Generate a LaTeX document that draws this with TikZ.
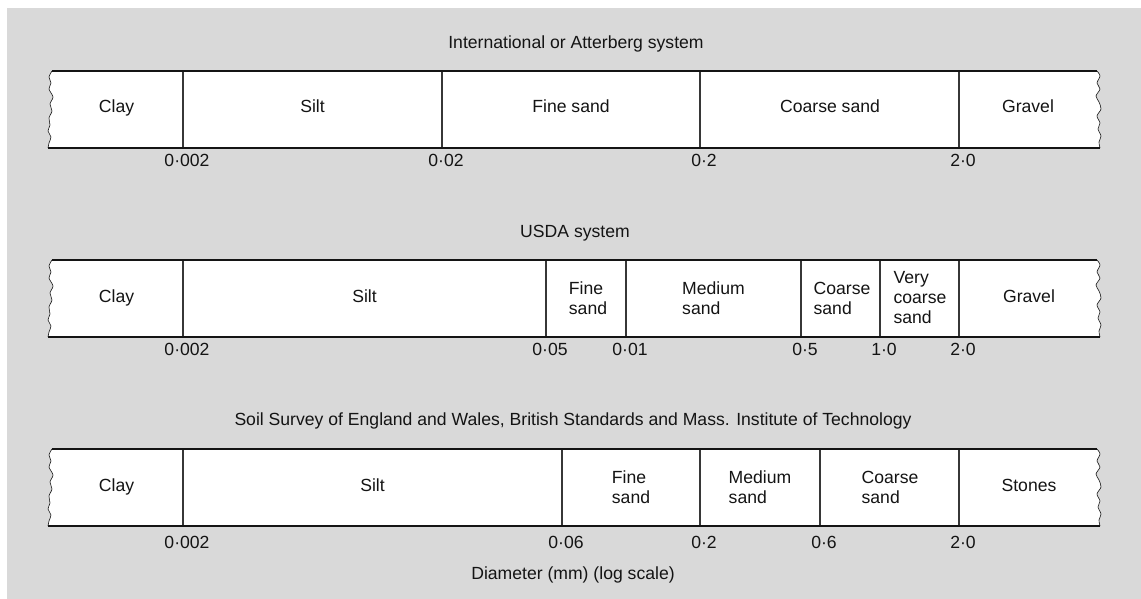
\documentclass[tikz,border=0pt]{standalone}
\usepackage{fontspec}
\setmainfont{Liberation Sans}
\definecolor{panel}{RGB}{217,217,217}
\definecolor{ink}{RGB}{20,20,20}

% One band of size classes: white strip with ragged ends, heavy rules
% at top and bottom. #1 = y of the top rule.
\newcommand\soilband[1]{%
  \begin{scope}[shift={(0,#1)}]
    \fill[white]
      plot[smooth] coordinates {(52,0) (49,6) (51,12) (49,18) (53,26) (50,33)
        (52,40) (49,47) (50,54) (48,60) (51,66) (49,72) (48,77)}
      -- plot[smooth] coordinates {(1100,77) (1099,71) (1101,65) (1098,58)
        (1100,52) (1097,45) (1101,38) (1099,31) (1096,25) (1100,18) (1097,12)
        (1100,5) (1097,0)}
      -- cycle;
    \draw[ragged] plot[smooth] coordinates {(52,0) (49,6) (51,12) (49,18)
      (53,26) (50,33) (52,40) (49,47) (50,54) (48,60) (51,66) (49,72) (48,77)};
    \draw[ragged] plot[smooth] coordinates {(1100,77) (1099,71) (1101,65)
      (1098,58) (1100,52) (1097,45) (1101,38) (1099,31) (1096,25) (1100,18)
      (1097,12) (1100,5) (1097,0)};
    \draw[rim] (52,0) -- (1097,0);
    \draw[rim] (48,77) -- (1100,77);
  \end{scope}}

\begin{document}
\begin{tikzpicture}[x=1pt,y=-1pt,
  every node/.style={font=\fontsize{17.6}{20}\selectfont, text=ink, inner sep=0pt},
  label/.style={anchor=base},
  cell/.style={anchor=base},
  stack/.style={align=left, anchor=center},
  divider/.style={draw=ink!85, line width=1.3pt},
  rim/.style={draw=ink, line width=2.3pt},
  ragged/.style={draw=ink, line width=0.6pt}]

  % canvas
  \useasboundingbox (0,0) rectangle (1141,599);
  \fill[white] (0,0) rectangle (1141,599);
  \fill[panel] (7,8) rectangle (1141,599);

  % ---------- International or Atterberg system ----------
  \node[label] (t1) at (576,49) {International or Atterberg system};
  \soilband{71}
  \foreach \x in {183,442,700,959}
    \draw[divider] (\x,72) -- (\x,147);
  \node[cell] (a1) at (116.5,113) {Clay};
  \node[cell] (a2) at (312.5,113) {Silt};
  \node[cell] (a3) at (571,113) {Fine sand};
  \node[cell] (a4) at (830,113) {Coarse sand};
  \node[cell] (a5) at (1028,113) {Gravel};
  \foreach \x/\t [count=\i] in {183/0·002,442/0·02,700/0·2,959/2·0}
    \node[label] (av\i) at (\x+4,167) {\t};

  % ---------- USDA system ----------
  \node[label] (t2) at (575,237) {USDA system};
  \soilband{260}
  \foreach \x in {183,546,626,801,880,959}
    \draw[divider] (\x,261) -- (\x,336);
  \node[cell] (b1) at (116.5,302) {Clay};
  \node[cell] (b2) at (364.5,302) {Silt};
  \node[stack] (b3) at (588,298) {Fine\\sand};
  \node[stack] (b4) at (713.5,298) {Medium\\sand};
  \node[stack] (b5) at (842,298) {Coarse\\sand};
  \node[stack] (b6) at (920,298) {Very\\coarse\\sand};
  \node[cell] (b7) at (1029,302) {Gravel};
  \foreach \x/\t [count=\i] in {183/0·002,546/0·05,626/0·01,801/0·5,880/1·0,959/2·0}
    \node[label] (bv\i) at (\x+4,355) {\t};

  % ---------- Soil Survey / BS / MIT ----------
  \node[label] (t3) at (573,425)
    {Soil Survey of England and Wales, British Standards and Mass. Institute of Technology};
  \soilband{449}
  \foreach \x in {183,562,700,820,959}
    \draw[divider] (\x,450) -- (\x,525);
  \node[cell] (c1) at (116.5,491) {Clay};
  \node[cell] (c2) at (372.5,491) {Silt};
  \node[stack] (c3) at (631,487) {Fine\\sand};
  \node[stack] (c4) at (760,487) {Medium\\sand};
  \node[stack] (c5) at (890,487) {Coarse\\sand};
  \node[cell] (c6) at (1029,491) {Stones};
  \foreach \x/\t [count=\i] in {183/0·002,562/0·06,700/0·2,820/0·6,959/2·0}
    \node[label] (cv\i) at (\x+4,548) {\t};

  \node[label] (axis) at (573,579) {Diameter (mm) (log scale)};
\end{tikzpicture}
\end{document}
